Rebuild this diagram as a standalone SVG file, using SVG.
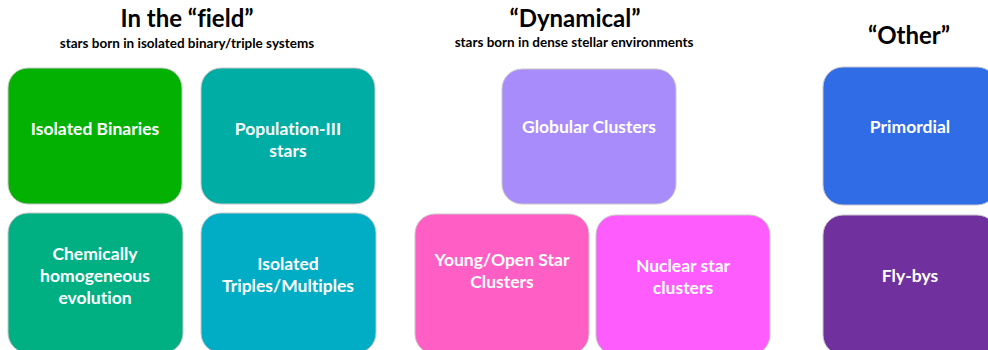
<svg xmlns="http://www.w3.org/2000/svg" width="988" height="350" viewBox="0 0 988 350">
  <style>
    text { font-family: Lato, "Liberation Sans", sans-serif; font-weight: bold; text-anchor: middle; font-variant-ligatures: none; }
    .title { font-size: 24px; fill: #000; }
    .sub { font-size: 13.5px; fill: #000; }
    .box { stroke: #c8c8c8; stroke-width: 1; }
    .lbl { font-size: 17.5px; fill: #fff; }
  </style>
  <rect width="988" height="350" fill="#fff"/>

  <!-- column headings -->
  <g id="heading-field">
    <text class="title" x="187" y="27">In the “field”</text>
    <text class="sub" x="187" y="48">stars born in isolated binary/triple systems</text>
  </g>
  <g id="heading-dynamical">
    <text class="title" x="575" y="27">“Dynamical”</text>
    <text class="sub" x="574" y="47">stars born in dense stellar environments</text>
  </g>
  <g id="heading-other">
    <text class="title" x="909" y="44">“Other”</text>
  </g>

  <!-- field channels -->
  <g id="isolated-binaries">
    <rect class="box" x="8" y="68" width="174" height="136" rx="20" fill="#02b102"/>
    <text class="lbl" x="95" y="135">Isolated Binaries</text>
  </g>
  <g id="population-iii">
    <rect class="box" x="201" y="68" width="174" height="136" rx="20" fill="#00ada5"/>
    <text class="lbl" x="288" y="135">Population-III</text>
    <text class="lbl" x="288" y="157">stars</text>
  </g>
  <g id="chemically-homogeneous">
    <rect class="box" x="8" y="213" width="175" height="140" rx="20" fill="#00b083"/>
    <text class="lbl" x="95" y="260">Chemically</text>
    <text class="lbl" x="95" y="282">homogeneous</text>
    <text class="lbl" x="95" y="304">evolution</text>
  </g>
  <g id="isolated-triples">
    <rect class="box" x="201" y="213" width="175" height="140" rx="20" fill="#00adc5"/>
    <text class="lbl" x="288" y="270">Isolated</text>
    <text class="lbl" x="288" y="292">Triples/Multiples</text>
  </g>

  <!-- dynamical channels -->
  <g id="globular-clusters">
    <rect class="box" x="502" y="69" width="174" height="135" rx="20" fill="#a98cfb"/>
    <text class="lbl" x="589" y="133">Globular Clusters</text>
  </g>
  <g id="young-open-clusters">
    <rect class="box" x="415" y="214" width="174" height="140" rx="20" fill="#ff5ec4"/>
    <text class="lbl" x="502" y="266">Young/Open Star</text>
    <text class="lbl" x="502" y="288">Clusters</text>
  </g>
  <g id="nuclear-star-clusters">
    <rect class="box" x="596" y="215" width="174" height="140" rx="20" fill="#ff5cfe"/>
    <text class="lbl" x="683" y="272">Nuclear star</text>
    <text class="lbl" x="683" y="294">clusters</text>
  </g>

  <!-- other channels -->
  <g id="primordial">
    <rect class="box" x="823" y="67" width="174" height="138" rx="20" fill="#306ce6"/>
    <text class="lbl" x="910" y="133">Primordial</text>
  </g>
  <g id="fly-bys">
    <rect class="box" x="823" y="215" width="174" height="140" rx="20" fill="#70309e"/>
    <text class="lbl" x="910" y="282">Fly-bys</text>
  </g>
</svg>
